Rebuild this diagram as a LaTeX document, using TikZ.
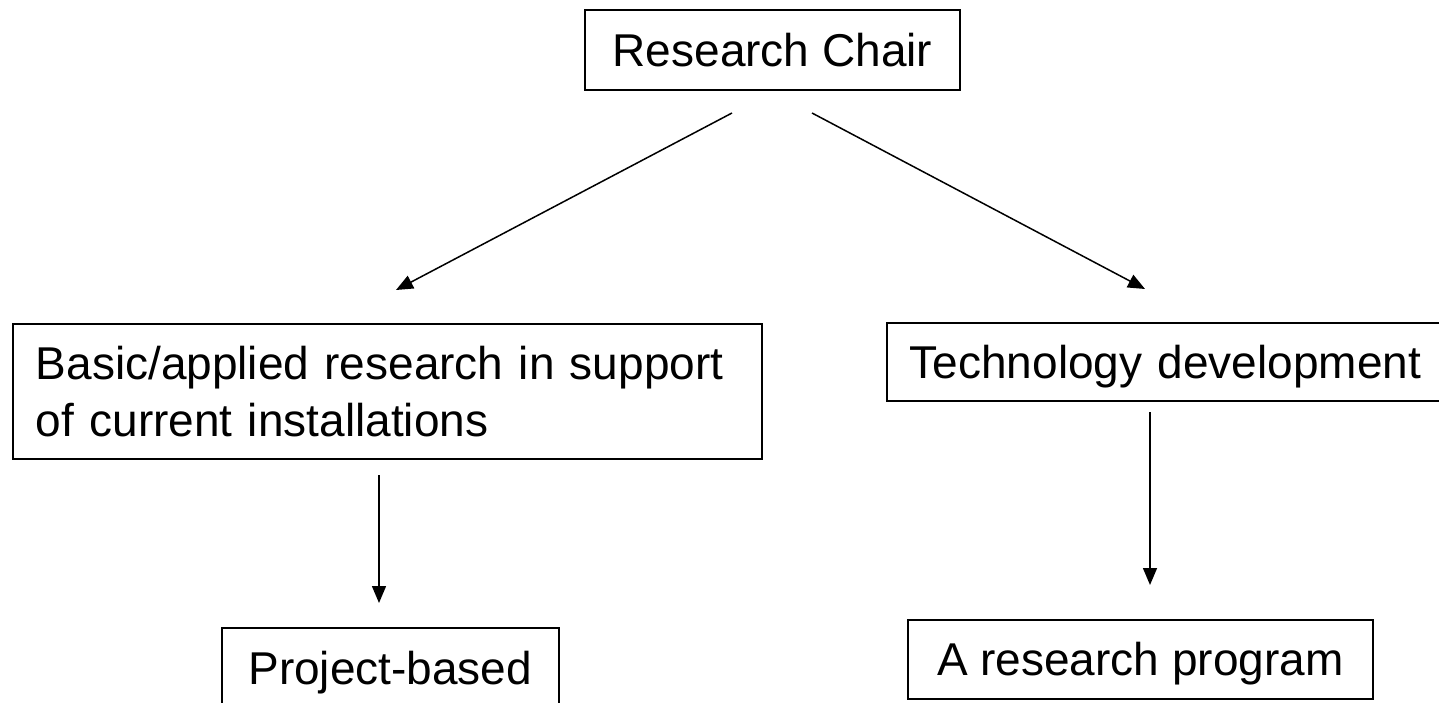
\documentclass[tikz,border=0pt]{standalone}
\usepackage{fontspec}
\setmainfont{Liberation Sans}
\usetikzlibrary{arrows.meta}
\tikzset{
  boxthin/.style={draw=black, line width=1.5pt, inner xsep=23pt, inner ysep=0pt, font=\fontsize{46}{57}\selectfont},
  oneline/.style={text depth=0pt},
  boxthick/.style={boxthin, line width=2.6pt},
  conn/.style={line width=1.5pt, -{Triangle[length=17pt,width=14pt]}}
}
\begin{document}
\begin{tikzpicture}[x=1pt,y=-1pt]
\useasboundingbox (0,0) rectangle (1439,703);
\clip (0,0) rectangle (1439,703);
\node[boxthick, oneline, minimum width=375pt, minimum height=80pt] (rc) at (772.5,50) {Research Chair};
\node[boxthin, anchor=north west, minimum width=749pt, minimum height=135pt, text width=703pt, align=left] (basic) at (12,323) {Basic/applied research in support of current installations};
\node[boxthin, oneline, anchor=west, minimum width=570pt, minimum height=78pt, text width=524pt, align=left] (tech) at (886,362) {Technology development};
\node[boxthin, oneline, anchor=north west, minimum width=337pt, minimum height=80pt] (proj) at (221,627) {Project-based};
\node[boxthin, oneline, anchor=north west, minimum width=465pt, minimum height=79pt] (prog) at (907,619) {A research program};
\coordinate (rcL) at (732,113);
\coordinate (rcR) at (812,113);
\coordinate (basicIn) at (396,290);
\coordinate (techIn) at (1145,289);
\coordinate (basicOut) at (379,475);
\coordinate (projIn) at (379,603);
\coordinate (techOut) at (1150,412);
\coordinate (progIn) at (1150,585);
\draw[conn] (rcL) -- (basicIn);
\draw[conn] (rcR) -- (techIn);
\draw[conn] (basicOut) -- (projIn);
\draw[conn] (techOut) -- (progIn);
\end{tikzpicture}
\end{document}
